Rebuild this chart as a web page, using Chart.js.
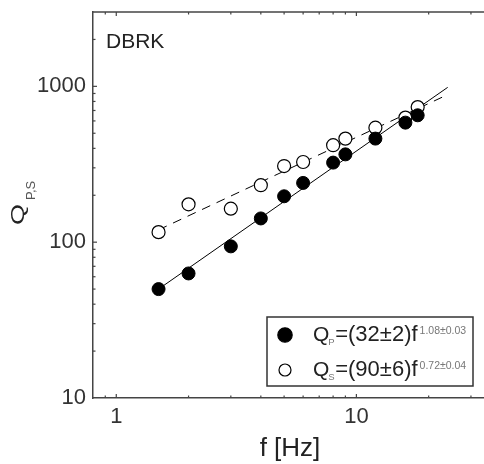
<!DOCTYPE html>
<html>
<head>
<meta charset="utf-8">
<script src="https://cdn.jsdelivr.net/npm/chart.js@4.4.0/dist/chart.umd.min.js"></script>
<style>
  html, body { margin: 0; padding: 0; background: #fff; overflow: hidden; }
  #wrap { width: 484px; height: 464px; }
</style>
</head>
<body>
<div id="wrap"><canvas id="chart" width="484" height="464"></canvas></div>
<script>
// values
const freqs = [1.5, 2, 3, 4, 5, 6, 8, 9, 12, 16, 18];
const qP = [50, 63, 94, 142, 197, 240, 324, 366, 462, 585, 652];
const qS = [116, 175, 164, 232, 308, 327, 419, 462, 543, 630, 736];
// end points of the two fitted power laws (straight on log-log)
const fitFreqs = [1.5, 24];
const fitP = [50, 985];
const fitS = [120, 885];
const xTickLabels = [1, 10];
const yTickLabels = [10, 100, 1000];

const FONT = 'Liberation Sans, Arial, sans-serif';
const AXIS = '#444';

function pts(xs, ys) {
    return xs.map((x, i) => ({ x: x, y: ys[i] }));
}
function near(v, list) {
    return list.some(t => Math.abs(v - t) < 1e-6 * t);
}

// inward ticks, frame top, legend and titles
const decor = {
    id: 'decor',
    afterDraw(chart) {
        const ctx = chart.ctx;
        const a = chart.chartArea;
        const xs = chart.scales.x, ys = chart.scales.y;
        ctx.save();
        ctx.strokeStyle = AXIS;
        ctx.lineWidth = 1.5;
        ctx.beginPath();
        ctx.moveTo(a.left, a.top);
        ctx.lineTo(a.right, a.top);
        ctx.stroke();

        ctx.lineWidth = 1.2;
        const tickLen = v => {
            const m = v / Math.pow(10, Math.floor(Math.log10(v) + 1e-9));
            if (Math.abs(m - Math.round(m)) > 1e-6) return 0;
            return Math.round(m) === 1 ? 4 : 2.5;
        };
        xs.ticks.forEach(t => {
            const len = tickLen(t.value);
            if (!len) return;
            const px = xs.getPixelForValue(t.value);
            if (px <= a.left + 1 || px >= a.right) return;
            ctx.beginPath();
            ctx.moveTo(px, a.bottom); ctx.lineTo(px, a.bottom - len);
            ctx.moveTo(px, a.top); ctx.lineTo(px, a.top + len);
            ctx.stroke();
        });
        ys.ticks.forEach(t => {
            const len = tickLen(t.value);
            if (!len) return;
            const py = ys.getPixelForValue(t.value);
            if (py >= a.bottom - 1 || py <= a.top + 1) return;
            ctx.beginPath();
            ctx.moveTo(a.left, py); ctx.lineTo(a.left + len, py);
            ctx.stroke();
        });

        // panel label
        ctx.fillStyle = '#222';
        ctx.textBaseline = 'alphabetic';
        ctx.textAlign = 'left';
        ctx.font = '21px ' + FONT;
        ctx.fillText('DBRK', 106, 48);

        // x title
        ctx.font = '26px ' + FONT;
        ctx.textAlign = 'center';
        ctx.fillText('f [Hz]', 290, 456);

        // y title, rotated: Q with subscript P,S
        ctx.save();
        ctx.translate(24, 225);
        ctx.rotate(-Math.PI / 2);
        ctx.textAlign = 'left';
        ctx.save();
        ctx.scale(1.5, 1);
        ctx.font = '18px ' + FONT;
        ctx.fillText('Q', 0, 0);
        ctx.restore();
        ctx.fillStyle = '#555';
        ctx.font = '13px ' + FONT;
        ctx.fillText('P,S', 25, 11);
        ctx.restore();

        // legend
        const bx = 267, by = 317, bw = 206, bh = 69;
        ctx.fillStyle = '#fff';
        ctx.fillRect(bx, by, bw, bh);
        ctx.strokeStyle = '#333';
        ctx.lineWidth = 1.5;
        ctx.strokeRect(bx, by, bw, bh);

        const rows = [
            { y: 335, r: 7.2, fill: '#000', sub: 'P', main: '=(32\u00b12)f', sup: '1.08\u00b10.03' },
            { y: 370, r: 6, fill: '#fff', sub: 'S', main: '=(90\u00b16)f', sup: '0.72\u00b10.04' }
        ];
        rows.forEach(r => {
            ctx.beginPath();
            ctx.arc(285, r.y, r.r, 0, Math.PI * 2);
            ctx.fillStyle = r.fill;
            ctx.fill();
            ctx.lineWidth = 1.2;
            ctx.strokeStyle = '#000';
            ctx.stroke();

            let x = 313;
            const base = r.y + 6;
            ctx.textAlign = 'left';
            ctx.fillStyle = '#222';
            ctx.font = '21px ' + FONT;
            ctx.fillText('Q', x, base);
            x += ctx.measureText('Q').width - 1;
            ctx.fillStyle = '#777';
            ctx.font = '9.5px ' + FONT;
            ctx.fillText(r.sub, x, base + 4);
            x += ctx.measureText(r.sub).width + 0.5;
            ctx.fillStyle = '#222';
            ctx.font = '22px ' + FONT;
            ctx.fillText(r.main, x, base);
            x += ctx.measureText(r.main).width + 2;
            ctx.fillStyle = '#777';
            ctx.font = '10.5px ' + FONT;
            ctx.fillText(r.sup, x, base - 7);
        });
        ctx.restore();
    }
};

new Chart(document.getElementById('chart'), {
    type: 'scatter',
    data: {
        datasets: [{
            label: 'QP',
            data: pts(freqs, qP),
            backgroundColor: '#000',
            borderColor: '#000',
            borderWidth: 1,
            pointRadius: 6.5,
            order: 0
        }, {
            label: 'QS',
            data: pts(freqs, qS),
            backgroundColor: '#fff',
            borderColor: '#000',
            borderWidth: 1.2,
            pointRadius: 6.5,
            order: 1
        }, {
            label: 'fit P',
            data: pts(fitFreqs, fitP),
            showLine: true,
            borderColor: '#000',
            borderWidth: 1,
            pointRadius: 0,
            order: 2
        }, {
            label: 'fit S',
            data: pts(fitFreqs, fitS),
            showLine: true,
            borderColor: '#000',
            borderWidth: 1,
            borderDash: [9, 7],
            pointRadius: 0,
            order: 3
        }]
    },
    options: {
        responsive: false,
        animation: false,
        layout: { autoPadding: false, padding: { top: 12, right: 0, left: 0, bottom: 0 } },
        plugins: {
            legend: { display: false },
            tooltip: { enabled: false }
        },
        scales: {
            x: {
                type: 'logarithmic',
                min: 0.8,
                max: 34,
                grid: { display: false, drawTicks: false },
                border: { display: true, color: AXIS, width: 1.5 },
                ticks: {
                    autoSkip: false,
                    maxRotation: 0,
                    padding: 6,
                    color: '#333',
                    font: { family: FONT, size: 22 },
                    callback: v => near(v, xTickLabels) ? String(Math.round(v)) : ''
                },
                afterFit: s => { s.height = 66; s.paddingLeft = 0; s.paddingRight = 0; }
            },
            y: {
                type: 'logarithmic',
                min: 10,
                max: 3000,
                grid: { display: false, drawTicks: false },
                border: { display: true, color: AXIS, width: 1.5 },
                ticks: {
                    autoSkip: false,
                    padding: 7,
                    color: '#333',
                    font: { family: FONT, size: 22 },
                    callback: v => near(v, yTickLabels) ? String(Math.round(v)) : ''
                },
                afterFit: s => { s.width = 93; s.paddingTop = 0; s.paddingBottom = 0; }
            }
        }
    },
    plugins: [decor]
});
</script>
</body>
</html>
